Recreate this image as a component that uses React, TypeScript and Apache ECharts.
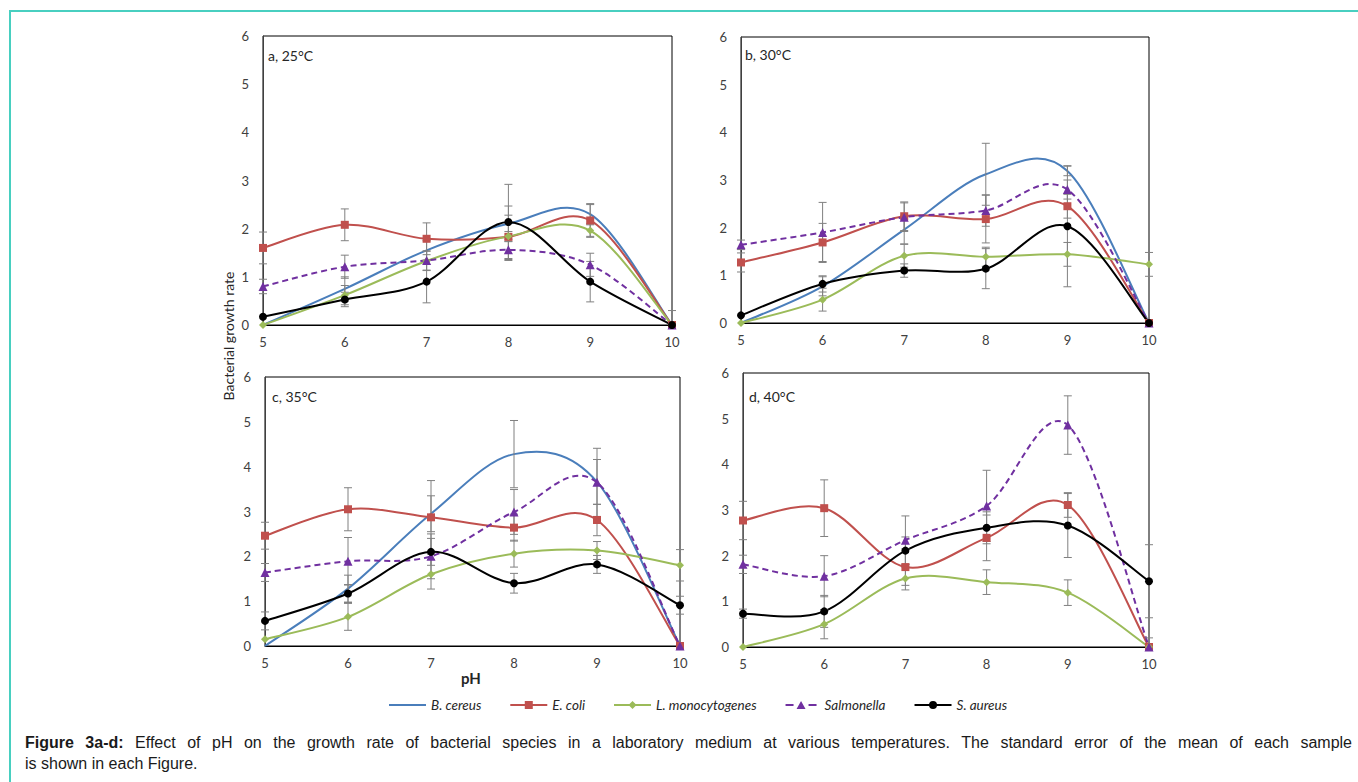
import { useEffect, useRef } from "react";
import * as echarts from "echarts";

// ---------- data ----------
const PH = [5, 6, 7, 8, 9, 10];
const SPECIES = ["B. cereus", "E. coli", "L. monocytogenes", "Salmonella", "S. aureus"];
const PANEL_LABELS = ["a, 25°C", "b, 30°C", "c, 35°C", "d, 40°C"];
const Y_TITLE = "Bacterial growth rate";
const X_TITLE = "pH";
const CAPTION_BOLD = "Figure 3a-d:";
const CAPTION_LINE1 =
  "Effect of pH on the growth rate of bacterial species in a laboratory medium at various temperatures. The standard error of the mean of each sample";
const CAPTION_LINE2 = "is shown in each Figure.";

// Panel a, 25°C
const a_bCereus = [0, 0.75, 1.55, 2.1, 2.3, 0];
const a_eColi = [1.6, 2.08, 1.79, 1.83, 2.17, 0];
const a_lMono = [0, 0.62, 1.33, 1.84, 1.96, 0];
const a_salm = [0.8, 1.21, 1.34, 1.56, 1.25, 0];
const a_sAureus = [0.17, 0.53, 0.9, 2.14, 0.9, 0];
// Panel b, 30°C
const b_bCereus = [0, 0.77, 1.96, 3.12, 3.19, 0];
const b_eColi = [1.27, 1.69, 2.24, 2.18, 2.45, 0];
const b_lMono = [0, 0.49, 1.41, 1.39, 1.44, 1.23];
const b_salm = [1.64, 1.9, 2.22, 2.36, 2.8, 0];
const b_sAureus = [0.16, 0.82, 1.1, 1.14, 2.03, 0];
// Panel c, 35°C
const c_bCereus = [0, 1.28, 2.95, 4.28, 3.66, 0];
const c_eColi = [2.46, 3.05, 2.87, 2.64, 2.81, 0];
const c_lMono = [0.15, 0.65, 1.6, 2.06, 2.13, 1.8];
const c_salm = [1.64, 1.89, 2.0, 2.99, 3.65, 0];
const c_sAureus = [0.56, 1.17, 2.1, 1.4, 1.82, 0.91];
// Panel d, 40°C
const d_bCereus = [null, null, null, null, null, null];
const d_eColi = [2.77, 3.04, 1.75, 2.39, 3.11, 0];
const d_lMono = [0, 0.5, 1.5, 1.42, 1.19, 0];
const d_salm = [1.81, 1.55, 2.34, 3.09, 4.86, 0];
const d_sAureus = [0.73, 0.78, 2.11, 2.61, 2.66, 1.44];

// standard errors (±)
const a_bCereusErr = [null, 0.25, 0.2, 0.37, 0.2, null];
const a_eColiErr = [0.33, 0.33, 0.33, 0.45, 0.35, null];
const a_lMonoErr = [null, 0.2, 0.2, 0.1, 0.12, null];
const a_salmErr = [0.15, 0.24, 0.2, 0.22, 0.24, 0.3];
const a_sAureusErr = [null, 0.15, 0.44, 0.78, 0.42, null];

const b_bCereusErr = [null, 0.2, 0.3, 0.65, 0.1, null];
const b_eColiErr = [0.2, 0.4, 0.3, 0.5, 0.25, null];
const b_lMonoErr = [null, 0.24, 0.24, 0.2, 0.25, 0.25];
const b_salmErr = [0.1, 0.63, 0.3, 0.33, 0.2, null];
const b_sAureusErr = [null, 0.17, 0.14, 0.42, 1.27, null];

const c_bCereusErr = [null, 0.3, 0.4, 0.75, 0.5, null];
const c_eColiErr = [0.3, 0.48, 0.82, 0.3, 0.35, null];
const c_lMonoErr = [null, 0.3, 0.33, 0.3, 0.2, 0.35];
const c_salmErr = [0.2, 0.53, 0.5, 0.5, 0.76, null];
const c_sAureusErr = [0.2, 0.2, 0.3, 0.22, 0.2, 0.2];

const d_bCereusErr = [null, null, null, null, null, null];
const d_eColiErr = [0.42, 0.62, 0.4, 0.5, 0.27, null];
const d_lMonoErr = [null, 0.32, 0.25, 0.27, 0.28, null];
const d_salmErr = [0.2, 0.45, 0.53, 0.78, 0.64, 0.2];
const d_sAureusErr = [0.1, 0.35, 0.3, 0.35, 0.7, 0.8];

const PANEL_VALUES = [
  [a_bCereus, a_eColi, a_lMono, a_salm, a_sAureus],
  [b_bCereus, b_eColi, b_lMono, b_salm, b_sAureus],
  [c_bCereus, c_eColi, c_lMono, c_salm, c_sAureus],
  [d_bCereus, d_eColi, d_lMono, d_salm, d_sAureus],
];
const PANEL_ERRORS = [
  [a_bCereusErr, a_eColiErr, a_lMonoErr, a_salmErr, a_sAureusErr],
  [b_bCereusErr, b_eColiErr, b_lMonoErr, b_salmErr, b_sAureusErr],
  [c_bCereusErr, c_eColiErr, c_lMonoErr, c_salmErr, c_sAureusErr],
  [d_bCereusErr, d_eColiErr, d_lMonoErr, d_salmErr, d_sAureusErr],
];

// ---------- styles ----------
const SPECIES_STYLE = [
  { color: "#4a7ebb", symbol: "none", size: 0, dash: null },
  { color: "#c0504d", symbol: "rect", size: 8, dash: null },
  { color: "#9bbb59", symbol: "diamond", size: 8, dash: null },
  { color: "#7030a0", symbol: "triangle", size: 9, dash: [6, 4] },
  { color: "#000000", symbol: "circle", size: 8, dash: null },
];
const LEGEND_ICONS = [
  "path://M0 3h37v2H0z",
  "path://M0 3h37v2H0zM14.5 0h8v8h-8z",
  "path://M0 3h37v2H0zM18.5 0L22.5 4L18.5 8L14.5 4z",
  "path://M3 3h8v2H3zM26 3h8v2h-8zM18.5 0L23 8H14z",
  "path://M0 3h37v2H0zM14.5 4a4 4 0 1 1 8 0a4 4 0 1 1 -8 0z",
];
const GRIDS = [
  { left: 263, top: 36, width: 409, height: 289 },
  { left: 741, top: 37, width: 408, height: 286 },
  { left: 265, top: 377, width: 415, height: 269 },
  { left: 743, top: 373, width: 406, height: 274 },
];
const LABEL_POS = [
  [268, 55],
  [745, 54],
  [272, 396],
  [749, 396],
];
const FONT = "Lato, 'Open Sans', sans-serif";
const CAP_FONT = "'Liberation Sans', Arial, sans-serif";
const CAP_LEFT = 25;
const CAP_RIGHT = 1352;

function measure(text: string, font: string): number {
  const cv = document.createElement("canvas");
  const ctx = cv.getContext("2d");
  if (!ctx) return text.length * 8;
  ctx.font = font;
  return ctx.measureText(text).width;
}

function justifiedLine(y: number): any[] {
  const boldFont = `bold 16px ${CAP_FONT}`;
  const regFont = `16px ${CAP_FONT}`;
  const words = [
    ...CAPTION_BOLD.split(" ").map((w) => ({ w, font: boldFont })),
    ...CAPTION_LINE1.split(" ").map((w) => ({ w, font: regFont })),
  ];
  const widths = words.map((o) => measure(o.w, o.font));
  const total = widths.reduce((s, v) => s + v, 0);
  const gap = (CAP_RIGHT - CAP_LEFT - total) / (words.length - 1);
  let x = CAP_LEFT;
  return words.map((o, i) => {
    const el = {
      type: "text",
      x,
      y,
      style: { text: o.w, font: o.font, fill: "#1a1a1a", verticalAlign: "middle" },
    };
    x += widths[i] + gap;
    return el;
  });
}

function curvePath(vals: (number | null)[], api: any): string {
  const pts = PH.map((x, k) => (vals[k] === null ? null : [x, vals[k] as number])).filter(
    (p) => p !== null
  ) as number[][];
  if (pts.length < 2) return "";
  const c = (p: number[]) => api.coord(p);
  const s = c(pts[0]);
  let d = `M${s[0]} ${s[1]}`;
  for (let i = 0; i < pts.length - 1; i++) {
    const p0 = pts[i - 1] || pts[i];
    const p1 = pts[i];
    const p2 = pts[i + 1];
    const p3 = pts[i + 2] || pts[i + 1];
    const c1 = c([p1[0] + (p2[0] - p0[0]) / 6, p1[1] + (p2[1] - p0[1]) / 6]);
    const c2 = c([p2[0] - (p3[0] - p1[0]) / 6, p2[1] - (p3[1] - p1[1]) / 6]);
    const e = c(p2);
    d += ` C${c1[0]} ${c1[1]} ${c2[0]} ${c2[1]} ${e[0]} ${e[1]}`;
  }
  return d;
}

export default function App() {
  const ref = useRef<HTMLDivElement>(null);
  useEffect(() => {
    if (!ref.current) return;
    const chart = echarts.init(ref.current, undefined, { renderer: "svg" });

    const grid = GRIDS.map((g) => ({
      ...g,
      show: true,
      borderColor: "#000",
      borderWidth: 1,
      backgroundColor: "transparent",
      containLabel: false,
    }));
    const xAxis = GRIDS.map((_, i) => ({
      type: "value",
      gridIndex: i,
      min: 5,
      max: 10,
      interval: 1,
      axisLine: { show: true, onZero: false, lineStyle: { color: "#000", width: 1 } },
      axisTick: { show: false },
      splitLine: { show: false },
      axisLabel: { color: "#404040", fontSize: 13, fontFamily: FONT, margin: 10 },
    }));
    const yAxis = GRIDS.map((_, i) => ({
      type: "value",
      gridIndex: i,
      min: 0,
      max: 6,
      interval: 1,
      axisLine: { show: true, lineStyle: { color: "#404040", width: 1 } },
      axisTick: { show: false },
      splitLine: { show: false },
      axisLabel: { color: "#404040", fontSize: 13, fontFamily: FONT, margin: 14 },
    }));

    const series: any[] = [];
    PANEL_VALUES.forEach((vals, p) => {
      vals.forEach((arr, s) => {
        const st = SPECIES_STYLE[s];
        // smooth curve (Excel-style Catmull-Rom through the data points)
        series.push({
          type: "custom",
          name: "curve-" + p + "-" + s,
          xAxisIndex: p,
          yAxisIndex: p,
          data: [[5, 0]],
          encode: { x: 0, y: 1 },
          z: 3,
          silent: true,
          renderItem: (_params: any, api: any) => {
            const d = curvePath(arr, api);
            if (!d) return null;
            return {
              type: "path",
              shape: { pathData: d },
              style: {
                fill: "none",
                stroke: st.color,
                lineWidth: 2,
                lineDash: st.dash || undefined,
              },
            };
          },
        });
        // markers
        const data = PH.map((x, k) => [x, arr[k]]).filter((d) => d[1] !== null);
        series.push({
          type: "line",
          name: SPECIES[s],
          xAxisIndex: p,
          yAxisIndex: p,
          data,
          symbol: st.symbol,
          symbolSize: st.size,
          showSymbol: st.symbol !== "none",
          itemStyle: { color: st.color },
          lineStyle: { color: st.color, width: 0, opacity: 0 },
          z: 5,
        });
      });
      const errData: number[][] = [];
      vals.forEach((arr, s) => {
        const errs = PANEL_ERRORS[p][s];
        PH.forEach((x, k) => {
          const v = arr[k];
          const e = errs[k];
          if (v !== null && e !== null) errData.push([x, v as number, e as number]);
        });
      });
      series.push({
        type: "custom",
        name: "err" + p,
        xAxisIndex: p,
        yAxisIndex: p,
        data: errData,
        encode: { x: 0, y: 1 },
        z: 4,
        silent: true,
        renderItem: (_params: any, api: any) => {
          const x = api.value(0);
          const y = api.value(1);
          const e = api.value(2);
          const hi = Math.min(6, y + e);
          const lo = Math.max(0, y - e);
          const t = api.coord([x, hi]);
          const b = api.coord([x, lo]);
          const w = 4;
          const style = { stroke: "#808080", lineWidth: 1 };
          return {
            type: "group",
            children: [
              { type: "line", shape: { x1: t[0], y1: t[1], x2: b[0], y2: b[1] }, style },
              { type: "line", shape: { x1: t[0] - w, y1: t[1], x2: t[0] + w, y2: t[1] }, style },
              { type: "line", shape: { x1: b[0] - w, y1: b[1], x2: b[0] + w, y2: b[1] }, style },
            ],
          };
        },
      });
    });

    const graphic: any[] = [
      { type: "line", shape: { x1: 9, y1: 11, x2: 1358, y2: 11 }, style: { stroke: "#48cfc0", lineWidth: 2 } },
      { type: "line", shape: { x1: 10, y1: 10, x2: 10, y2: 782 }, style: { stroke: "#48cfc0", lineWidth: 2 } },
      ...PANEL_LABELS.map((t, i) => ({
        type: "text",
        x: LABEL_POS[i][0],
        y: LABEL_POS[i][1],
        style: { text: t, fill: "#262626", font: `14px ${FONT}`, verticalAlign: "middle" },
        z: 10,
      })),
      {
        type: "text",
        x: 228.5,
        y: 336,
        rotation: Math.PI / 2,
        style: {
          text: Y_TITLE,
          fill: "#262626",
          font: `14px ${FONT}`,
          align: "center",
          verticalAlign: "middle",
        },
      },
      {
        type: "text",
        x: 471,
        y: 678,
        style: {
          text: X_TITLE,
          fill: "#262626",
          font: `bold 15px ${FONT}`,
          align: "center",
          verticalAlign: "middle",
        },
      },
      ...justifiedLine(742),
      {
        type: "text",
        x: CAP_LEFT,
        y: 763,
        style: {
          text: CAPTION_LINE2,
          verticalAlign: "middle",
          font: `16px ${CAP_FONT}`,
          fill: "#1a1a1a",
        },
      },
    ];

    chart.setOption({
      animation: false,
      backgroundColor: "#fff",
      grid,
      xAxis,
      yAxis,
      legend: {
        data: SPECIES.map((name, i) => ({ name, icon: LEGEND_ICONS[i] })),
        left: 389,
        top: 698,
        padding: 0,
        itemWidth: 37,
        itemHeight: 8,
        itemGap: 29,
        textStyle: { fontFamily: FONT, fontSize: 13.5, fontStyle: "italic", color: "#262626" },
        selectedMode: false,
      },
      series,
      graphic,
    });
    return () => chart.dispose();
  }, []);
  return <div ref={ref} style={{ position: "fixed", left: 0, top: 0, width: 1358, height: 782 }} />;
}
